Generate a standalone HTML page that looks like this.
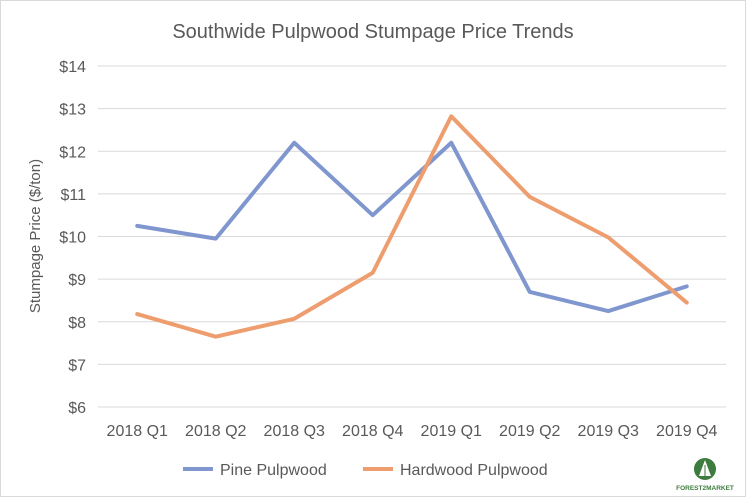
<!DOCTYPE html>
<html><head><meta charset="utf-8"><style>
html,body{margin:0;padding:0;background:#fff;}
svg{display:block;font-family:"Liberation Sans",sans-serif;}
</style></head><body>
<svg id="chart" width="746" height="497">
<rect x="0.5" y="0.5" width="745" height="496" fill="#fff" stroke="#d9d9d9"/>
<text x="373" y="38" text-anchor="middle" font-size="20" fill="#595959">Southwide Pulpwood Stumpage Price Trends</text>
<g id="grid"></g>
<g id="yticks"></g>
<g id="xticks"></g>
<text transform="translate(40,236) rotate(-90)" text-anchor="middle" font-size="15" fill="#595959">Stumpage Price ($/ton)</text>
<g id="series"></g>
<g>
<line x1="183" y1="469" x2="213" y2="469" stroke="#7f96cf" stroke-width="4"/>
<text x="220" y="475" font-size="16" fill="#595959">Pine Pulpwood</text>
<line x1="363" y1="469" x2="393" y2="469" stroke="#ed9d6e" stroke-width="4"/>
<text x="400" y="475" font-size="16" fill="#595959">Hardwood Pulpwood</text>
</g>
<g>
<circle cx="705" cy="469" r="11" fill="#3e7b3e"/>
<polygon points="705,460 699,476 711,476" fill="#fff"/>
<line x1="705" y1="465" x2="705" y2="476" stroke="#3e7b3e" stroke-width="1"/>
<text x="705" y="490" text-anchor="middle" font-size="6.5" fill="#3e7b3e" font-weight="bold">FOREST2MARKET</text>
</g>
</svg>
<script>
const categories=["2018 Q1","2018 Q2","2018 Q3","2018 Q4","2019 Q1","2019 Q2","2019 Q3","2019 Q4"];
const pine=[10.25,9.95,12.2,10.5,12.2,8.7,8.25,8.83];
const hardwood=[8.18,7.65,8.07,9.15,12.82,10.93,9.98,8.45];
const yTicks=[6,7,8,9,10,11,12,13,14];
const NS="http://www.w3.org/2000/svg";
const plotLeft=98,plotRight=726,plotTop=66,plotBottom=407,yMin=6,yMax=14;
const step=(plotRight-plotLeft)/categories.length;
const xs=i=>plotLeft+step*(i+0.5);
const ys=v=>plotBottom-(v-yMin)/(yMax-yMin)*(plotBottom-plotTop);
function mk(tag,attrs,parent){const e=document.createElementNS(NS,tag);for(const k in attrs)e.setAttribute(k,attrs[k]);parent.appendChild(e);return e;}
const grid=document.getElementById('grid'),yt=document.getElementById('yticks'),xt=document.getElementById('xticks'),ser=document.getElementById('series');
yTicks.forEach(v=>{
 const l=mk('line',{x1:plotLeft,x2:plotRight,y1:ys(v),y2:ys(v),stroke:'#d9d9d9','stroke-width':1},grid);
 
 
 const t=mk('text',{x:86,y:ys(v)+6,'text-anchor':'end','font-size':16,fill:'#595959'},yt);
 t.textContent='$'+v;
 
 
});
categories.forEach((c,i)=>{
 const t=mk('text',{x:xs(i),y:436,'text-anchor':'middle','font-size':16,fill:'#595959'},xt);
 t.textContent=c;
 
 
});
[[pine,'#7f96cf','pine-line'],[hardwood,'#ed9d6e','hardwood-line']].forEach(([d,col,name])=>{
 const p=mk('polyline',{points:d.map((v,i)=>xs(i)+','+ys(v)).join(' '),fill:'none',stroke:col,'stroke-width':4,'stroke-linejoin':'round','stroke-linecap':'round'},ser);
 
 
});
</script>
</body></html>
